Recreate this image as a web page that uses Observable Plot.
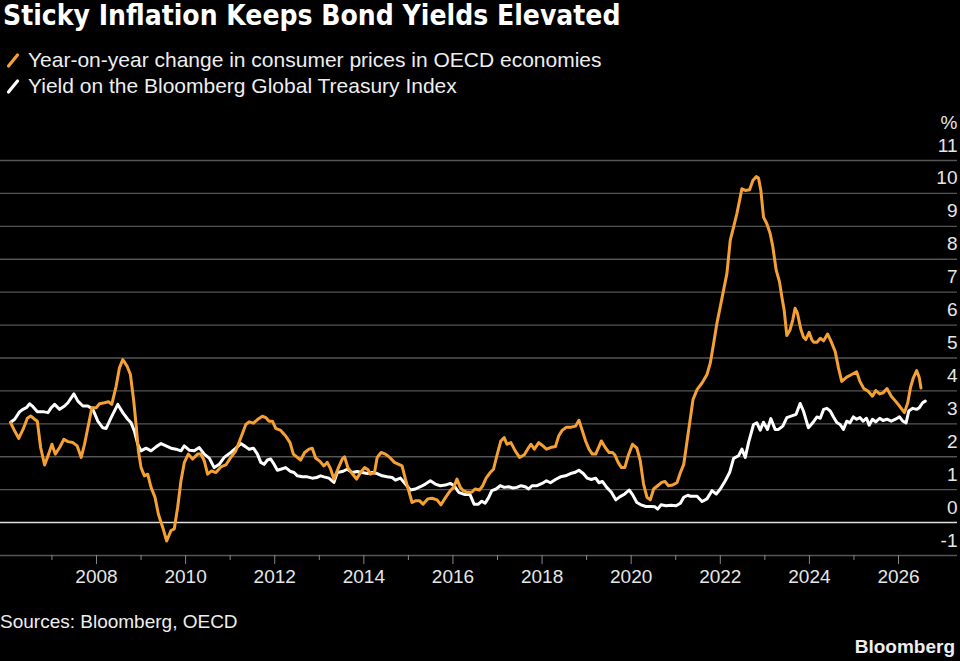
<!DOCTYPE html>
<html>
<head>
<meta charset="utf-8">
<script src="https://cdn.jsdelivr.net/npm/d3@7"></script>
<script src="https://cdn.jsdelivr.net/npm/@observablehq/plot@0.6"></script>
<style>
  html, body { margin: 0; padding: 0; background: #000; }
  #wrap { position: relative; width: 960px; height: 661px; overflow: hidden; background: #000; color: #fff; font-family: "Liberation Sans", Arial, sans-serif; }
  #title { position: absolute; left: 3px; top: -1px; line-height: 34px; font-size: 28px; font-weight: bold; font-family: "DejaVu Sans Condensed", "DejaVu Sans", sans-serif; font-stretch: condensed; color: #fff; white-space: nowrap; }
  .leg { position: absolute; left: 6px; font-size: 21px; line-height: 24px; color: #eee; white-space: nowrap; display: flex; align-items: center; }
  .leg svg { margin-right: 8px; }
  #chart { position: absolute; left: 0; top: 100px; }
  #source { position: absolute; left: 0; top: 611px; font-size: 19px; line-height: 22px; color: #eee; }
  #brand { position: absolute; right: 5px; top: 636px; font-size: 19px; line-height: 22px; font-weight: bold; color: #eee; }
</style>
</head>
<body>
<div id="wrap">
  <div id="title"></div>
  <div class="leg" id="leg0" style="top:48px"></div>
  <div class="leg" id="leg1" style="top:74px"></div>
  <div id="chart"></div>
  <div id="source"></div>
  <div id="brand"></div>
</div>
<script>
// ---- Text ----
const titleText = "Sticky Inflation Keeps Bond Yields Elevated";
const seriesNames = ["Year-on-year change in consumer prices in OECD economies", "Yield on the Bloomberg Global Treasury Index"];
const seriesColors = ["#f5a033", "#ffffff"];
const sourceText = "Sources: Bloomberg, OECD";
const brandText = "Bloomberg";
const unitLabel = "%";

// ---- Axis ticks ----
const yTicks = [-1, 0, 1, 2, 3, 4, 5, 6, 7, 8, 9, 10, 11];
const xLabelYears = [2008, 2010, 2012, 2014, 2016, 2018, 2020, 2022, 2024, 2026];
const xMinorYears = [2007, 2009, 2011, 2013, 2015, 2017, 2019, 2021, 2023, 2025];

// ---- Series: OECD CPI YoY (%) ----
const cpiYear = [2006.075,2006.164,2006.254,2006.351,2006.448,2006.522,2006.612,2006.672,2006.746,2006.836,2006.925,2007.000,2007.075,2007.172,2007.269,2007.358,2007.470,2007.567,2007.657,2007.731,2007.821,2007.896,2007.993,2008.067,2008.179,2008.269,2008.343,2008.440,2008.515,2008.590,2008.687,2008.761,2008.836,2008.888,2008.940,2009.000,2009.075,2009.149,2009.224,2009.313,2009.388,2009.485,2009.575,2009.672,2009.746,2009.821,2009.896,2009.970,2010.060,2010.157,2010.269,2010.343,2010.418,2010.493,2010.582,2010.679,2010.791,2010.903,2011.015,2011.127,2011.239,2011.351,2011.425,2011.522,2011.612,2011.724,2011.799,2011.873,2011.948,2012.022,2012.134,2012.246,2012.343,2012.418,2012.507,2012.582,2012.672,2012.769,2012.843,2012.918,2013.015,2013.104,2013.179,2013.254,2013.328,2013.418,2013.515,2013.567,2013.642,2013.739,2013.836,2013.925,2014.015,2014.090,2014.149,2014.239,2014.299,2014.388,2014.485,2014.582,2014.687,2014.784,2014.858,2014.933,2015.007,2015.082,2015.157,2015.254,2015.328,2015.433,2015.530,2015.642,2015.731,2015.828,2015.940,2016.015,2016.090,2016.164,2016.233,2016.323,2016.421,2016.496,2016.594,2016.669,2016.744,2016.835,2016.910,2016.985,2017.075,2017.150,2017.211,2017.301,2017.398,2017.496,2017.602,2017.699,2017.752,2017.827,2017.925,2018.000,2018.098,2018.188,2018.301,2018.376,2018.451,2018.549,2018.654,2018.752,2018.827,2018.902,2018.977,2019.053,2019.128,2019.203,2019.278,2019.331,2019.429,2019.504,2019.579,2019.632,2019.707,2019.782,2019.857,2019.932,2020.030,2020.128,2020.203,2020.278,2020.353,2020.429,2020.504,2020.594,2020.684,2020.759,2020.835,2020.932,2021.030,2021.105,2021.180,2021.271,2021.388,2021.478,2021.590,2021.701,2021.776,2021.851,2021.925,2022.000,2022.075,2022.149,2022.224,2022.299,2022.373,2022.433,2022.485,2022.560,2022.657,2022.731,2022.806,2022.858,2022.910,2022.970,2023.045,2023.119,2023.179,2023.254,2023.328,2023.381,2023.433,2023.493,2023.567,2023.627,2023.679,2023.731,2023.806,2023.866,2023.918,2023.993,2024.052,2024.096,2024.170,2024.244,2024.319,2024.407,2024.481,2024.578,2024.652,2024.726,2024.837,2024.948,2025.059,2025.133,2025.222,2025.319,2025.415,2025.489,2025.578,2025.652,2025.741,2025.837,2025.933,2026.022,2026.133,2026.207,2026.267,2026.333,2026.407,2026.467,2026.504];
const cpiValue = [3.03,2.78,2.56,2.83,3.17,3.24,3.14,3.08,2.28,1.75,2.08,2.38,2.08,2.28,2.53,2.46,2.43,2.33,1.98,2.38,2.98,3.49,3.49,3.61,3.64,3.67,3.59,4.14,4.70,4.95,4.75,4.50,3.69,2.98,2.18,1.67,1.42,1.47,1.07,0.77,0.26,-0.14,-0.56,-0.24,-0.19,0.46,1.27,1.82,2.08,1.93,2.08,2.08,1.88,1.47,1.57,1.52,1.69,1.75,1.98,2.18,2.58,2.98,3.06,3.02,3.13,3.23,3.19,3.08,3.08,2.86,2.80,2.63,2.43,2.08,1.98,1.90,2.13,2.23,2.26,1.96,1.86,1.72,1.83,1.63,1.32,1.63,1.93,2.00,1.67,1.49,1.32,1.52,1.67,1.61,1.47,1.52,1.98,2.13,2.08,1.98,1.83,1.77,1.72,1.32,0.97,0.61,0.66,0.66,0.56,0.72,0.74,0.69,0.54,0.75,0.97,1.07,1.32,1.07,0.97,0.92,0.92,1.02,0.99,1.12,1.35,1.52,1.62,2.03,2.48,2.58,2.38,2.43,2.18,1.98,2.06,2.28,2.38,2.23,2.43,2.35,2.23,2.28,2.31,2.64,2.80,2.90,2.90,2.93,3.11,2.80,2.48,2.23,2.08,2.08,2.31,2.48,2.26,2.13,2.13,2.06,1.83,1.67,1.67,2.03,2.38,2.26,1.88,1.17,0.77,0.69,1.02,1.12,1.22,1.25,1.12,1.14,1.22,1.52,1.77,2.63,3.74,4.04,4.24,4.50,4.85,5.45,6.06,6.56,7.07,7.57,8.58,8.98,9.39,9.79,10.14,10.09,10.11,10.39,10.51,10.47,10.09,9.28,9.08,8.78,8.38,7.67,7.32,6.86,6.46,5.68,5.86,6.16,6.51,6.36,5.88,5.64,5.56,5.78,5.56,5.48,5.48,5.60,5.52,5.73,5.52,5.20,4.70,4.29,4.42,4.50,4.58,4.29,4.07,3.99,3.84,4.01,3.91,3.94,4.07,3.84,3.69,3.54,3.34,3.64,4.09,4.40,4.62,4.40,4.09];

// ---- Series: Bloomberg Global Treasury Index yield (%) ----
const yieldYear = [2006.075,2006.164,2006.276,2006.351,2006.425,2006.500,2006.575,2006.672,2006.799,2006.910,2006.985,2007.060,2007.172,2007.284,2007.358,2007.493,2007.582,2007.694,2007.806,2007.918,2008.030,2008.142,2008.216,2008.328,2008.478,2008.590,2008.701,2008.776,2008.851,2008.925,2009.000,2009.112,2009.224,2009.336,2009.448,2009.560,2009.672,2009.784,2009.896,2009.970,2010.082,2010.194,2010.306,2010.418,2010.530,2010.642,2010.754,2010.866,2011.015,2011.127,2011.239,2011.351,2011.425,2011.522,2011.612,2011.687,2011.761,2011.836,2011.910,2011.985,2012.060,2012.134,2012.246,2012.358,2012.433,2012.507,2012.619,2012.731,2012.843,2012.940,2013.030,2013.104,2013.216,2013.328,2013.403,2013.515,2013.627,2013.739,2013.851,2013.963,2014.075,2014.187,2014.299,2014.410,2014.522,2014.634,2014.709,2014.821,2014.933,2015.045,2015.157,2015.269,2015.381,2015.493,2015.604,2015.716,2015.828,2015.940,2016.030,2016.127,2016.271,2016.383,2016.474,2016.571,2016.647,2016.722,2016.797,2016.872,2016.970,2017.060,2017.150,2017.248,2017.346,2017.436,2017.526,2017.624,2017.699,2017.774,2017.887,2018.000,2018.098,2018.188,2018.301,2018.414,2018.526,2018.639,2018.729,2018.827,2018.925,2019.015,2019.105,2019.203,2019.278,2019.353,2019.451,2019.556,2019.654,2019.752,2019.857,2019.955,2020.030,2020.128,2020.218,2020.331,2020.444,2020.534,2020.594,2020.669,2020.782,2020.895,2021.008,2021.105,2021.180,2021.271,2021.328,2021.478,2021.590,2021.701,2021.813,2021.910,2022.000,2022.112,2022.209,2022.299,2022.410,2022.485,2022.560,2022.634,2022.746,2022.821,2022.896,2022.970,2023.060,2023.134,2023.231,2023.306,2023.403,2023.493,2023.604,2023.701,2023.791,2023.866,2023.978,2024.075,2024.170,2024.244,2024.319,2024.393,2024.467,2024.541,2024.615,2024.689,2024.763,2024.837,2024.911,2024.985,2025.059,2025.133,2025.207,2025.281,2025.341,2025.415,2025.489,2025.578,2025.652,2025.741,2025.837,2025.933,2026.022,2026.096,2026.170,2026.230,2026.319,2026.407,2026.467,2026.541,2026.600];
const yieldValue = [3.05,3.14,3.37,3.44,3.49,3.61,3.52,3.37,3.37,3.34,3.49,3.59,3.44,3.54,3.64,3.91,3.69,3.54,3.54,3.44,3.08,2.88,2.86,3.19,3.59,3.34,3.14,3.03,2.78,2.38,2.18,2.26,2.18,2.30,2.40,2.33,2.26,2.23,2.18,2.33,2.20,2.18,2.28,2.08,1.96,1.67,1.77,1.98,2.13,2.26,2.40,2.30,2.23,2.26,2.08,1.83,1.77,1.90,1.93,1.77,1.59,1.62,1.67,1.55,1.52,1.42,1.39,1.39,1.35,1.37,1.42,1.39,1.35,1.22,1.52,1.55,1.62,1.52,1.55,1.52,1.49,1.52,1.49,1.42,1.39,1.37,1.29,1.35,1.17,0.99,1.02,1.09,1.17,1.27,1.17,1.12,1.14,1.19,1.12,0.92,0.85,0.85,0.56,0.56,0.65,0.59,0.75,0.97,1.02,1.12,1.07,1.09,1.05,1.07,1.12,1.09,1.02,1.12,1.12,1.19,1.27,1.21,1.31,1.39,1.42,1.49,1.52,1.59,1.49,1.35,1.31,1.35,1.21,1.25,1.07,0.92,0.69,0.79,0.87,0.99,0.85,0.61,0.54,0.49,0.49,0.48,0.41,0.54,0.51,0.53,0.51,0.59,0.77,0.83,0.80,0.80,0.64,0.72,0.97,0.87,1.02,1.27,1.52,1.95,2.03,2.23,1.98,2.43,2.98,3.03,2.81,3.05,2.83,3.16,2.83,2.83,2.93,3.19,3.24,3.29,3.62,3.39,2.88,3.03,3.21,3.17,3.44,3.47,3.39,3.21,3.04,2.98,2.83,3.08,3.03,3.21,3.14,3.19,3.08,3.17,2.96,3.14,3.06,3.17,3.10,3.14,3.08,3.14,3.21,3.08,3.03,3.39,3.47,3.44,3.49,3.64,3.69];

// ---- Build tables for Plot ----
const cpi = cpiYear.map((t, i) => ({t, v: cpiValue[i]}));
const yld = yieldYear.map((t, i) => ({t, v: yieldValue[i]}));

// ---- Header / footer text ----
document.getElementById("title").textContent = titleText;
function legendItem(el, name, color) {
  el.innerHTML = `<svg width="14" height="18" viewBox="0 0 14 18"><line x1="2.5" y1="15" x2="11.5" y2="4" stroke="${color}" stroke-width="3.2" stroke-linecap="round"/></svg><span></span>`;
  el.querySelector("span").textContent = name;
}
legendItem(document.getElementById("leg0"), seriesNames[0], seriesColors[0]);
legendItem(document.getElementById("leg1"), seriesNames[1], seriesColors[1]);
document.getElementById("source").textContent = sourceText;
document.getElementById("brand").textContent = brandText;

// ---- Chart ----
const font = '"Liberation Sans", Arial, sans-serif';
const chart = Plot.plot({
  width: 960,
  height: 500,
  marginLeft: 0,
  marginRight: 3,
  marginTop: 60,
  marginBottom: 45,
  style: {background: "transparent", color: "#e6e6e6", fontFamily: font, fontSize: "19px", overflow: "visible"},
  x: {type: "linear", domain: [2005.8454, 2027.3238], axis: null},
  y: {domain: [-1, 11], axis: null},
  marks: [
    Plot.ruleY(yTicks.filter(d => d !== 0), {stroke: "#555", strokeWidth: 1.3}),
    Plot.ruleY([0], {stroke: "#e0e0e0", strokeWidth: 1.5}),
    Plot.text(yTicks, {y: d => d, text: d => String(d), frameAnchor: "right", textAnchor: "end", lineAnchor: "bottom", dy: -9, fill: "#e6e6e6", fontSize: 19}),
    Plot.text([unitLabel], {y: d => yTicks[yTicks.length - 1], text: d => d, frameAnchor: "right", textAnchor: "end", lineAnchor: "bottom", dy: -32, fill: "#e6e6e6", fontSize: 19}),
    Plot.axisX({ticks: xMinorYears, tickSize: 5, tickFormat: () => "", stroke: "#888", label: null}),
    Plot.axisX({ticks: xLabelYears, tickSize: 9, tickPadding: 5, tickFormat: d => String(d), stroke: "#888", fill: "#e6e6e6", fontSize: 19, label: null}),
    Plot.line(yld, {x: "t", y: "v", stroke: seriesColors[1], strokeWidth: 3, strokeLinejoin: "round"}),
    Plot.line(cpi, {x: "t", y: "v", stroke: seriesColors[0], strokeWidth: 3, strokeLinejoin: "round"})
  ]
});
document.getElementById("chart").appendChild(chart);
</script>
</body>
</html>
